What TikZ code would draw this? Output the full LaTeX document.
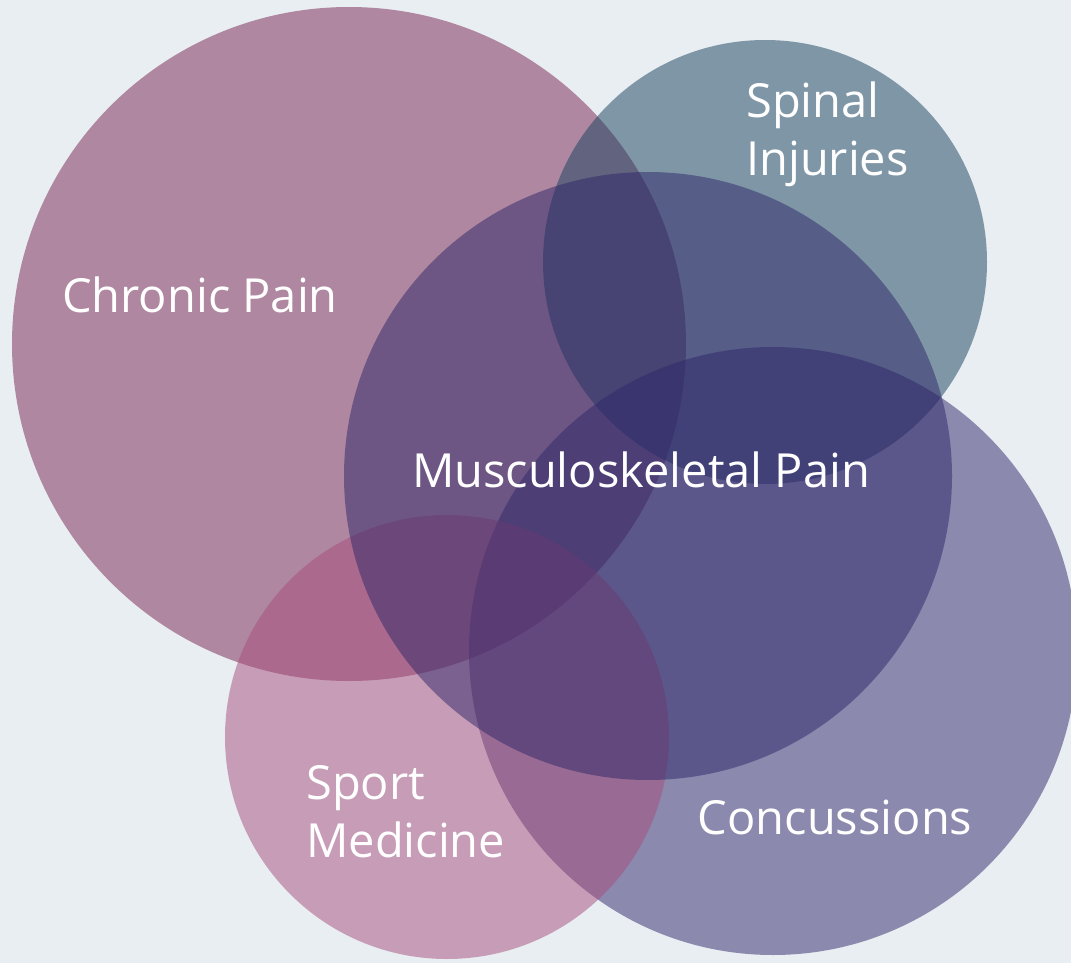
\documentclass[tikz,border=0pt]{standalone}
\usepackage{fontspec}
\setmainfont{Open Sans}
\definecolor{backgr}{HTML}{E9EEF2}
\definecolor{chronic}{HTML}{772250}
\definecolor{spinal}{HTML}{17405E}
\definecolor{concuss}{HTML}{2F266C}
\definecolor{sport}{HTML}{A74C7C}
\definecolor{musculo}{HTML}{2E2769}
\begin{document}
\begin{tikzpicture}[x=1pt,y=-1pt,
    venn/.style={circle,inner sep=0pt,fill opacity=.5},
    lbl/.style={text=white,inner sep=0pt,font=\fontsize{47}{58}\selectfont}]
  \clip (0,0) rectangle (1071,963);
  \fill[backgr] (0,0) rectangle (1071,963);
  % circles, back to front
  \node[venn,fill=chronic,minimum size=674pt] (chronic) at (349,344) {};
  \node[venn,fill=spinal,minimum size=444pt] (spinal) at (765,262) {};
  \node[venn,fill=concuss,minimum size=608pt] (concuss) at (773,651) {};
  \node[venn,fill=sport,minimum size=444pt] (sport) at (447,737) {};
  \node[venn,fill=musculo,minimum size=608pt] (musculo) at (648,476) {};
  % labels
  \node[lbl] (chroniclbl) at (200,295) {Chronic Pain};
  \node[lbl,align=left,anchor=west] (spinallbl) at (746,134) {Spinal\\Injuries};
  \node[lbl] (musculolbl) at (641,470) {Musculoskeletal Pain};
  \node[lbl,align=left,anchor=west] (sportlbl) at (306,812) {Sport\\Medicine};
  \node[lbl] (concusslbl) at (835,817) {Concussions};
\end{tikzpicture}
\end{document}
